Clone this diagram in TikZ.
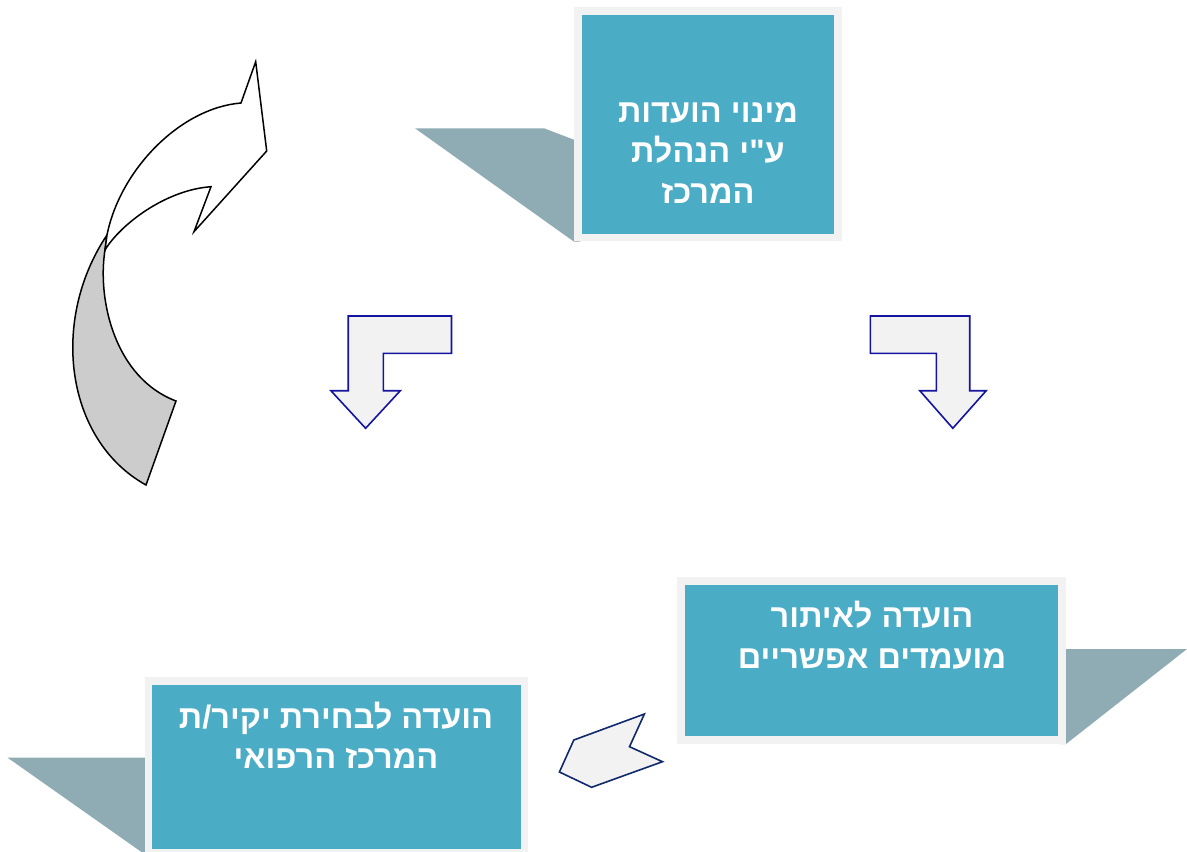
\documentclass[tikz,border=0pt]{standalone}
\usepackage{fontspec}
\newfontfamily\hebfont[Script=Hebrew]{Liberation Sans}
\TeXXeTstate=1
\definecolor{boxteal}{HTML}{4BACC6}
\definecolor{boxrim}{HTML}{F2F2F2}
\definecolor{shadowc}{HTML}{8FACB4}
\definecolor{arrowblue}{HTML}{1414A0}
\definecolor{arrownavy}{HTML}{10296B}
\definecolor{bandgray}{HTML}{CCCCCC}
\tikzset{
  stepbox/.style={draw=boxrim, line width=7.5pt, fill=boxteal, inner sep=0pt},
  shadowpoly/.style={fill=shadowc, draw=none},
  bentarrow/.style={draw=arrowblue, fill=boxrim, line width=1.6pt, line join=miter},
  smallarrow/.style={draw=arrownavy, fill=boxrim, line width=1.6pt, line join=miter},
  curvearrow/.style={draw=black, line width=1.5pt, line join=miter},
  hebtext/.style={text=white, align=center, inner sep=0pt,
    font={\hebfont\bfseries\fontsize{32.5}{40.5}\selectfont}}
}
\begin{document}
\begin{tikzpicture}[x=1pt,y=-1pt]
\useasboundingbox (0,0) rectangle (1187,852);

% shadows
\fill[shadowpoly] (415,128.3) -- (544,128.3) -- (580,142) -- (580,241.7) -- (574,241.7) -- cycle;
\fill[shadowpoly] (1060,649) -- (1187,649) -- (1066,744) -- (1060,744) -- cycle;
\fill[shadowpoly] (7.6,757.7) -- (150,757.7) -- (150,858) -- cycle;

% boxes
\node[stepbox, minimum width=260pt, minimum height=226.5pt] (b1) at (708,124.3) {};
\node[stepbox, minimum width=381pt, minimum height=159pt] (b2) at (871.5,660.5) {};
\node[stepbox, minimum width=376pt, minimum height=172pt] (b3) at (336.6,767) {};

% texts
\node[hebtext] (t1) at (708,153) {\beginR מינוי הועדות\endR\\\beginR ע"י הנהלת\endR\\\beginR המרכז\endR};
\node[hebtext] (t2) at (872,635) {\beginR הועדה לאיתור\endR\\\beginR מועמדים אפשריים\endR};
\node[hebtext] (t3) at (336,735.5) {\beginR הועדה לבחירת יקיר/ת\endR\\\beginR המרכז הרפואי\endR};

% bent arrows
\draw[bentarrow] (348.2,316) -- (451.5,316) -- (451.5,353.3) -- (383.4,353.3) -- (383.4,390.7)
  -- (400.3,390.7) -- (365.6,428.3) -- (330.9,390.7) -- (348.2,390.7) -- cycle;
\draw[bentarrow] (870.3,316) -- (969.7,316) -- (969.7,390.7) -- (986.2,390.7) -- (952.8,428.3)
  -- (919.8,390.7) -- (936.3,390.7) -- (936.3,353.3) -- (870.3,353.3) -- cycle;

% small arrow
\draw[smallarrow] (644.4,714) -- (629.5,746.7) -- (662.5,761.7) -- (591.6,787.3) -- (559.4,772) -- (573.8,740) -- cycle;

% curved arrow: back (gray) band
\draw[curvearrow, fill=bandgray] (107,235) .. controls (50,320) and (65,440) .. (146,485)
  -- (176,401) .. controls (115,378) and (97,300) .. (105,250) -- cycle;
% front (white) band with head
\draw[curvearrow, fill=white] (107,235) .. controls (120,170) and (180,108) .. (241,103)
  -- (255.7,61.7) -- (266.7,151) -- (194,231.7) -- (211,186.7)
  .. controls (165,190) and (120,225) .. (105,250) -- cycle;
\end{tikzpicture}
\end{document}
